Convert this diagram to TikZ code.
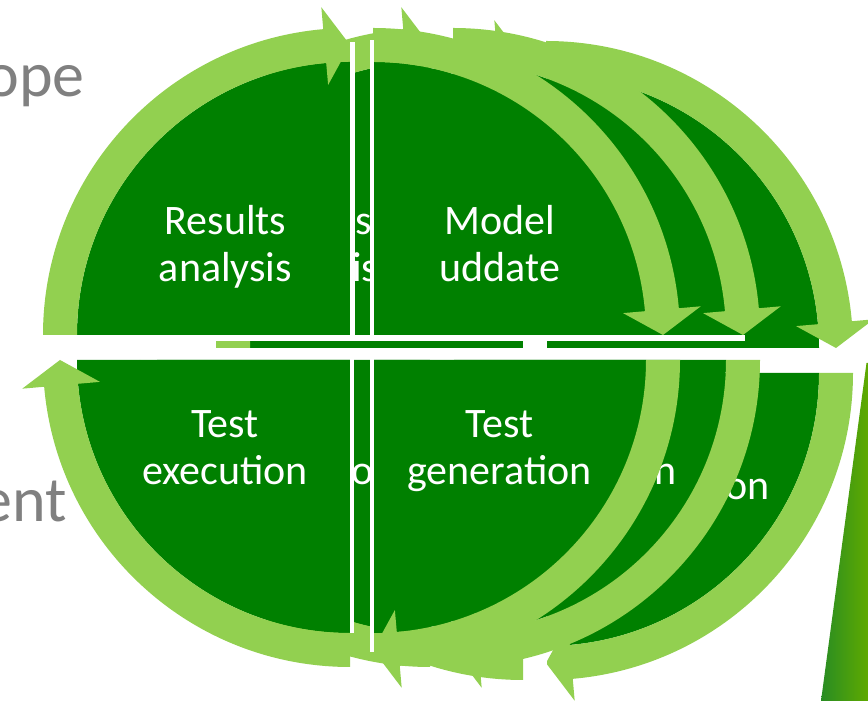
\documentclass[tikz,border=0pt]{standalone}
\usepackage{fontspec}
\setmainfont{Carlito}
\definecolor{dg}{RGB}{0,128,0}
\definecolor{lg}{RGB}{146,208,80}
\definecolor{gt}{RGB}{128,128,128}
\definecolor{barL}{RGB}{40,140,35}
\definecolor{barR}{RGB}{95,170,0}
\newcommand{\qpie}[2]{\fill[dg] (0,0) -- (#1:273) arc[start angle=#1,end angle=#2,radius=273] -- cycle;}
\newcommand{\qband}[3]{\fill[lg] (#1:307) arc[start angle=#1,end angle=#2,radius=307] -- (#2:329) -- (#3:290) -- (#2:251) -- (#2:273) arc[start angle=#2,end angle=#1,radius=273] -- cycle;}
\newcommand{\cyclecopy}{%
  \begin{scope}[shift={(350,366)}]\qpie{180}{90}\qband{180}{95}{90}\end{scope}
  \begin{scope}[shift={(373,366)}]\qpie{90}{0}\qband{90}{5}{0}\end{scope}
  \begin{scope}[shift={(373,341)}]\qpie{0}{-90}\qband{0}{-85}{-90}\end{scope}
  \begin{scope}[shift={(350,341)}]\qpie{-90}{-180}\qband{-90}{-175}{-180}\end{scope}
  \fill[white] (350,363) rectangle (355,659);
  \fill[white] (369.5,363) rectangle (373.5,661);
  \fill[white] (43,360) rectangle (665,366);
  \fill[white] (350,68) rectangle (354,343);
  \fill[white] (370,49) rectangle (374,343);
}
\tikzset{
  lbl/.style={text=white, align=center, inner sep=0pt, font=\fontsize{42}{47}\selectfont},
  frag/.style={text=white, inner sep=0pt, font=\fontsize{42}{47}\selectfont},
  bgtext/.style={text=gt, inner sep=0pt, font=\fontsize{64}{77}\selectfont}
}
\begin{document}
\begin{tikzpicture}[x=1pt,y=1pt]
\useasboundingbox (0,0) rectangle (868,701);
\clip (0,0) rectangle (868,701);
\fill[white] (0,0) rectangle (868,701);
% back copy 3
\begin{scope}[shift={(173,-13)}]\cyclecopy\end{scope}
\node[frag, anchor=base east] (on3) at (770,201) {on};
% copy 2
\begin{scope}[shift={(80,0)}]\cyclecopy\end{scope}
\node[frag, anchor=base west] (s2) at (355,466) {s};
\node[frag, anchor=base west] (is2) at (352,419) {is};
\node[frag, anchor=base west] (o2) at (351,216) {o};
\node[frag, anchor=base west] (n2) at (654,216) {n};
% front copy
\cyclecopy
\node[lbl] (ra) at (225.5,451.9) {\strut Results\\\strut analysis};
\node[lbl] (mu) at (500,451.9) {\strut Model\\\strut uddate};
\node[lbl] (te) at (225,248.9) {\strut Test\\\strut execution};
\node[lbl] (tg) at (499.5,248.9) {\strut Test\\\strut generation};
% background slide text
\node[bgtext, anchor=base east] (ope) at (85,604) {ope};
\node[bgtext, anchor=base east] (ent) at (67,179) {ent};
% gradient bar
\shade[left color=barL, right color=barR] (866.5,338) -- (868,338) -- (868,0) -- (821,0) -- cycle;
\end{tikzpicture}
\end{document}
